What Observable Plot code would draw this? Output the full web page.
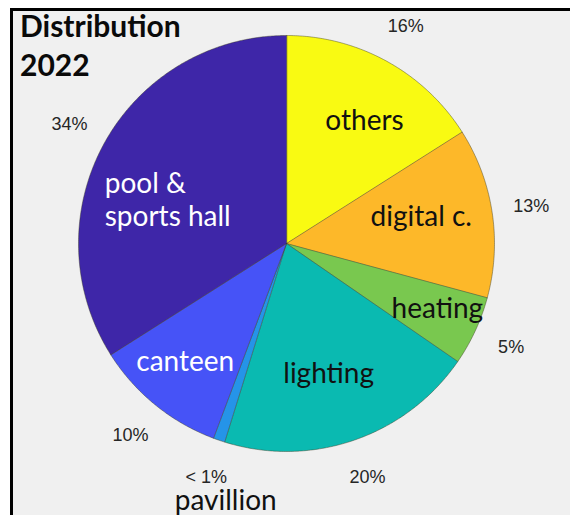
<!DOCTYPE html>
<html>
<head>
<meta charset="utf-8">
<script src="https://cdn.jsdelivr.net/npm/d3@7"></script>
<script src="https://cdn.jsdelivr.net/npm/@observablehq/plot@0.6"></script>
<style>
  html, body { margin: 0; padding: 0; background: #ffffff; }
  #wrap { position: relative; width: 572px; height: 515px; overflow: hidden; }
  #panel { position: absolute; left: 10px; top: 8px; right: 2px; bottom: 0; background: #f0f0f0;
           border-left: 3px solid #000; border-top: 3px solid #000; }
  #title { position: absolute; left: 20px; top: 6px; font-family: Lato, "Open Sans", sans-serif;
           font-weight: 700; font-size: 30px; line-height: 39px; color: #0a0a0a; }
  #chart { position: absolute; left: 0; top: 0; }
</style>
</head>
<body>
<div id="wrap">
  <div id="panel"></div>
  <div id="chart"></div>
  <div id="title">Distribution<br>2022</div>
</div>
<script>
// ---- data (clockwise from 12 o'clock) ----
const categories = ["others", "digital c.", "heating", "lighting", "pavillion", "canteen", "pool & sports hall"];
const shares = [16.0, 13.2, 5.4, 20.2, 0.9, 10.3, 34.0];
const pctLabels = ["16%", "13%", "5%", "20%", "< 1%", "10%", "34%"];
const nameLabels = ["others", "digital c.", "heating", "lighting", "pavillion", "canteen", "pool &\nsports hall"];

// ---- styling / layout ----
const sliceColors = ["#f9fa12", "#fdb829", "#79c84f", "#0abab1", "#2594e8", "#4653f7", "#3e26a8"];
const nameColors = ["#111", "#111", "#111", "#111", "#111", "#fff", "#fff"];
const nameRadius = [0.70, 0.66, 0.79, 0.66, 1.27, 0.75, 0.90];   // fraction of pie radius
const nameTurn = [3.6, -2.4, -1.5, 1.2, -5.6, 1.4, -15];        // degrees from slice mid-angle
const W = 572, H = 515, CX = 286, CY = 243, R = 208;

const rows = categories.map((c, i) => ({cat: c, share: shares[i], pct: pctLabels[i], name: nameLabels[i], i}));
const arcs = d3.pie().sort(null).value(d => d.share).startAngle(0).endAngle(2 * Math.PI)(rows);

const slicePts = [];
for (const a of arcs) {
  const cat = a.data.cat;
  slicePts.push({cat, x: 0, y: 0});
  const n = Math.max(2, Math.ceil((a.endAngle - a.startAngle) / (Math.PI / 360)));
  for (let k = 0; k <= n; ++k) {
    const t = a.startAngle + (a.endAngle - a.startAngle) * k / n;
    slicePts.push({cat, x: R * Math.sin(t), y: R * Math.cos(t)});
  }
}

const pctPts = arcs.map(a => {
  const m = (a.startAngle + a.endAngle) / 2;
  return {text: a.data.pct, x: 1.19 * R * Math.sin(m), y: 1.19 * R * Math.cos(m)};
});
const namePts = arcs.map(a => {
  const i = a.data.i;
  const m = (a.startAngle + a.endAngle) / 2 + nameTurn[i] * Math.PI / 180;
  const r = nameRadius[i] * R;
  return {text: a.data.name, x: r * Math.sin(m), y: r * Math.cos(m), color: nameColors[i], i};
});
const centered = namePts.filter(d => d.i !== 6);
const leftAligned = namePts.filter(d => d.i === 6);

const chart = Plot.plot({
  width: W, height: H,
  margin: 0,
  style: "background: transparent; overflow: visible;",
  x: {domain: [-CX, W - CX], range: [0, W], axis: null},
  y: {domain: [CY - H, CY], range: [H, 0], axis: null},
  color: {domain: categories, range: sliceColors},
  marks: [
    Plot.line(slicePts, {x: "x", y: "y", z: "cat", fill: "cat", stroke: "#3a3a20", strokeOpacity: 0.55,
      strokeWidth: 0.8, curve: "linear-closed"}),
    Plot.text(pctPts, {x: "x", y: "y", text: "text", fontSize: 18, fill: "#262626",
      fontFamily: "'Liberation Sans', Arial, sans-serif"}),
    Plot.text(centered, {x: "x", y: "y", text: "text", fill: "color", fontSize: 28,
      fontFamily: "Lato, 'Open Sans', sans-serif"}),
    Plot.text(leftAligned, {x: "x", y: "y", text: "text", fill: "color", fontSize: 28, textAnchor: "start",
      lineHeight: 1.18, fontFamily: "Lato, 'Open Sans', sans-serif"})
  ]
});
document.getElementById("chart").appendChild(chart);
</script>
</body>
</html>
